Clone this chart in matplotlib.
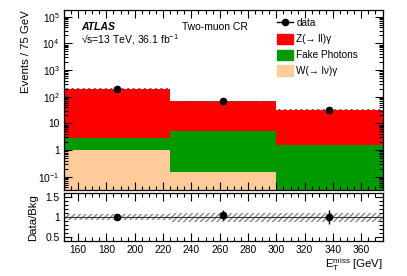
import matplotlib
matplotlib.use("Agg")
import matplotlib.pyplot as plt
import numpy as np
from matplotlib.lines import Line2D
import matplotlib.patches as mpatches
from matplotlib.ticker import FixedLocator, MultipleLocator, FuncFormatter, LogLocator

plt.rcParams['font.family'] = ['Liberation Sans', 'DejaVu Sans']
plt.rcParams['mathtext.fontset'] = 'custom'
plt.rcParams['mathtext.rm'] = 'Liberation Sans'
plt.rcParams['mathtext.it'] = 'Liberation Sans:italic'

# binning in E_T^miss [GeV]
bin_edges = [150, 225, 300, 375]

# stacked backgrounds (bottom to top)
w_gamma = [1.0, 0.146, 0.0]
fake_photons = [1.84, 4.85, 1.5]
z_gamma = [192.0, 62.0, 30.5]

# data
data_vals = [190.0, 67.0, 31.0]
data_err = [14.0, 8.0, 5.5]

# ratio panel
ratio_vals = [1.0, 1.05, 1.0]
ratio_err = [0.07, 0.12, 0.18]
band_err = [0.08, 0.11, 0.11]

FS_TICK = 7.4
FS_LAB = 8.2
FS_TXT = 7.5
FS_LEG = 7.2
edges = np.array(bin_edges, dtype=float)
centers = 0.5 * (edges[:-1] + edges[1:])

fig = plt.figure(figsize=(4.07, 2.76), dpi=100)
ax = fig.add_axes([0.157, 0.3116, 0.783, 0.6522])
rax = fig.add_axes([0.157, 0.1268, 0.783, 0.1728])

# stack
w = np.array(w_gamma)
f = np.array(fake_photons)
z = np.array(z_gamma)
ymin = 10 ** -1.5
layers = [(w, "#ffcc99"), (f, "#009900"), (z, "#ff0000")]
cum = np.zeros(3)
for vals, col in layers:
    top = cum + vals
    lo = np.maximum(cum, ymin)
    for i in range(3):
        if top[i] > ymin:
            ax.fill_between([edges[i], edges[i + 1]], lo[i], top[i], color=col, lw=0)
    cum = top

# thin uncertainty hatch on top of stack
for i in range(3):
    ax.fill_between([edges[i], edges[i + 1]], cum[i] * 0.96, cum[i] * 1.04,
                    facecolor="none", edgecolor="#555555", hatch="//////", lw=0)

ax.errorbar(centers, data_vals, yerr=data_err, fmt="o", color="black", ms=4.5,
            elinewidth=1, capsize=0, zorder=5)

ax.set_yscale("log")
ax.set_ylim(ymin, 10 ** 5.25)
ax.set_xlim(150, 375)


def log_fmt(v, pos):
    e = int(round(np.log10(v)))
    if e == 0:
        return "1"
    if e == 1:
        return "10"
    return r"$10^{%d}$" % e


ax.yaxis.set_major_locator(FixedLocator([1e-1, 1, 10, 1e2, 1e3, 1e4, 1e5]))
ax.yaxis.set_major_formatter(FuncFormatter(log_fmt))
ax.yaxis.set_minor_locator(LogLocator(base=10, subs=np.arange(2, 10), numticks=20))
ax.xaxis.set_major_locator(MultipleLocator(20))
ax.xaxis.set_minor_locator(MultipleLocator(5))
ax.set_ylabel("Events / 75 GeV", fontsize=FS_LAB, loc="top", labelpad=5)

for a in (ax, rax):
    a.tick_params(which="both", direction="in", top=True, right=True, labelsize=FS_TICK,
                  width=0.8, pad=3)
    a.tick_params(which="major", length=6)
    a.tick_params(which="minor", length=3)
    for s in a.spines.values():
        s.set_linewidth(0.9)
ax.tick_params(axis="x", which="both", labelbottom=False)

ax.text(0.053, 0.905, "ATLAS", transform=ax.transAxes, fontsize=FS_TXT, fontweight="bold",
        fontstyle="italic", va="center")
ax.text(0.053, 0.835, "\u221as=13 TeV, 36.1 fb$^{-1}$", transform=ax.transAxes,
        fontsize=FS_TXT, va="center")
ax.text(0.37, 0.905, "Two-muon CR", transform=ax.transAxes, fontsize=FS_TXT, va="center")

handles = [
    Line2D([0], [0], color="black", marker="o", ms=4.5, lw=1),
    mpatches.Patch(color="#ff0000"),
    mpatches.Patch(color="#009900"),
    mpatches.Patch(color="#ffcc99"),
]
labels = ["data", "Z(\u2192 ll)\u03b3", "Fake Photons", "W(\u2192 l\u03bd)\u03b3"]
fig.legend(handles, labels, loc="upper left", bbox_to_anchor=(0.681, 0.935), frameon=False,
           fontsize=FS_LEG, borderpad=0, borderaxespad=0, handlelength=1.6, handleheight=1.2,
           handletextpad=0.3, labelspacing=0.53)

# ratio panel
for i in range(3):
    rax.fill_between([edges[i], edges[i + 1]], 1 - band_err[i], 1 + band_err[i],
                     facecolor="none", edgecolor="#888888", hatch="//////", lw=0)
rax.axhline(1.0, color="#333333", lw=0.8)
rax.errorbar(centers, ratio_vals, yerr=ratio_err, fmt="o", color="black", ms=4.5,
             elinewidth=1, capsize=0, zorder=5)
rax.set_xlim(150, 375)
rax.set_ylim(0.4, 1.6)
rax.yaxis.set_major_locator(FixedLocator([0.5, 1.0, 1.5]))
rax.yaxis.set_major_formatter(FuncFormatter(lambda v, p: "1" if v == 1 else "%g" % v))
rax.yaxis.set_minor_locator(MultipleLocator(0.1))
rax.xaxis.set_major_locator(MultipleLocator(20))
rax.xaxis.set_minor_locator(MultipleLocator(5))
rax.set_ylabel("Data/Bkg", fontsize=FS_LAB, labelpad=5)
fig.align_ylabels([ax, rax])
fig.text(0.94, 1 - 265 / 276, r"E$_{\mathrm{T}}^{\mathrm{miss}}$ [GeV]", fontsize=FS_LAB,
         ha="right", va="center")

fig.savefig("out.png", dpi=100)
